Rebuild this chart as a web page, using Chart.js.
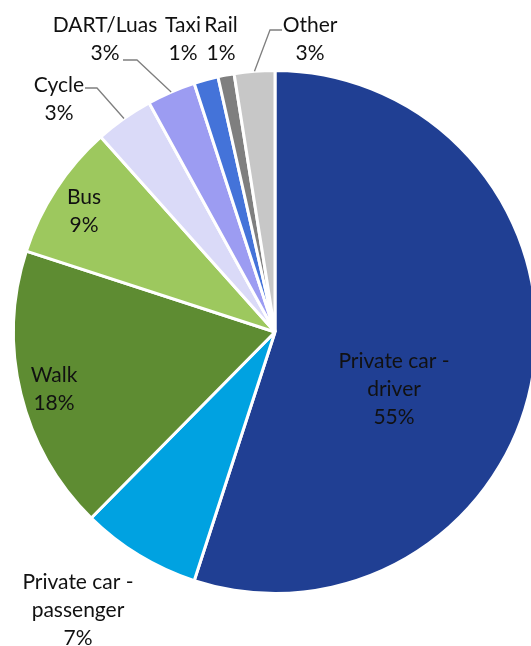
<!DOCTYPE html>
<html>
<head>
<meta charset="utf-8">
<script src="https://cdn.jsdelivr.net/npm/chart.js@4/dist/chart.umd.min.js"></script>
<style>
  html, body { margin: 0; padding: 0; background: #ffffff; overflow: hidden; width: 531px; height: 646px; }
  canvas { display: block; }
</style>
</head>
<body>
<canvas id="c" width="550" height="646"></canvas>
<script>
// ---- data ----
const categories = ["Private car - driver", "Private car - passenger", "Walk", "Bus", "Cycle", "DART/Luas", "Taxi", "Rail", "Other"];
const shares = [55, 7.4, 17.6, 8.4, 3.6, 3.0, 1.5, 1.0, 2.5];
const shownPercents = ["55%", "7%", "18%", "9%", "3%", "3%", "1%", "1%", "3%"];
const labelLines = [["Private car -", "driver"], ["Private car -", "passenger"], ["Walk"], ["Bus"], ["Cycle"], ["DART/Luas"], ["Taxi"], ["Rail"], ["Other"]];
const colors = ["#203F93", "#00A2E1", "#5E8C32", "#9DC85E", "#DADAF8", "#9C9CF2", "#4473D9", "#7F7F7F", "#C7C7C7"];

// label layout (offsets from pie centre, px) and leader-line elbows
const labelAnchors = [
  {dx: 119, dy: 29},   // driver
  {dx: -197, dy: 250}, // passenger
  {dx: -221, dy: 43},  // walk
  {dx: -191, dy: -135},// bus
  {dx: -216, dy: -247},// cycle
  {dx: -170, dy: -307},// DART
  {dx: -92, dy: -307}, // taxi
  {dx: -54, dy: -307}, // rail
  {dx: 35, dy: -307}   // other
];
const leaders = {
  4: [{dx: -190, dy: -244}, {dx: -178, dy: -244}],
  5: [{dx: -152, dy: -272}, {dx: -138, dy: -272}],
  8: [{dx: 7, dy: -302}, {dx: -5, dy: -302}]
};

const labelPlugin = {
  id: 'pieLabels',
  afterDatasetsDraw(chart) {
    const ctx = chart.ctx;
    const meta = chart.getDatasetMeta(0);
    const cx = meta.data[0].x, cy = meta.data[0].y;
    ctx.save();
    // leader lines
    ctx.strokeStyle = '#7F7F7F';
    ctx.lineWidth = 1.3;
    Object.keys(leaders).forEach(k => {
      const arc = meta.data[k];
      const mid = (arc.startAngle + arc.endAngle) / 2;
      const ex = arc.x + Math.cos(mid) * arc.outerRadius;
      const ey = arc.y + Math.sin(mid) * arc.outerRadius;
      const pts = leaders[k];
      ctx.beginPath();
      ctx.moveTo(cx + pts[0].dx, cy + pts[0].dy);
      ctx.lineTo(cx + pts[1].dx, cy + pts[1].dy);
      ctx.lineTo(ex, ey);
      ctx.stroke();
    });
    // texts
    ctx.fillStyle = '#111111';
    ctx.font = '21px Lato';
    ctx.textAlign = 'center';
    ctx.textBaseline = 'middle';
    const lh = 28;
    labelLines.forEach((lines, i) => {
      const all = lines.concat([shownPercents[i]]);
      const a = labelAnchors[i];
      all.forEach((t, j) => {
        ctx.fillText(t, cx + a.dx, cy + a.dy + j * lh);
      });
    });
    ctx.restore();
  }
};

new Chart(document.getElementById('c'), {
  type: 'pie',
  data: {
    labels: categories,
    datasets: [{
      data: shares,
      backgroundColor: colors,
      borderColor: '#ffffff',
      borderWidth: 3
    }]
  },
  options: {
    responsive: false,
    animation: false,
    devicePixelRatio: 1,
    layout: { padding: { left: 12, right: 12, top: 69, bottom: 51 } },
    plugins: { legend: { display: false }, tooltip: { enabled: false } }
  },
  plugins: [labelPlugin]
});
</script>
</body>
</html>
